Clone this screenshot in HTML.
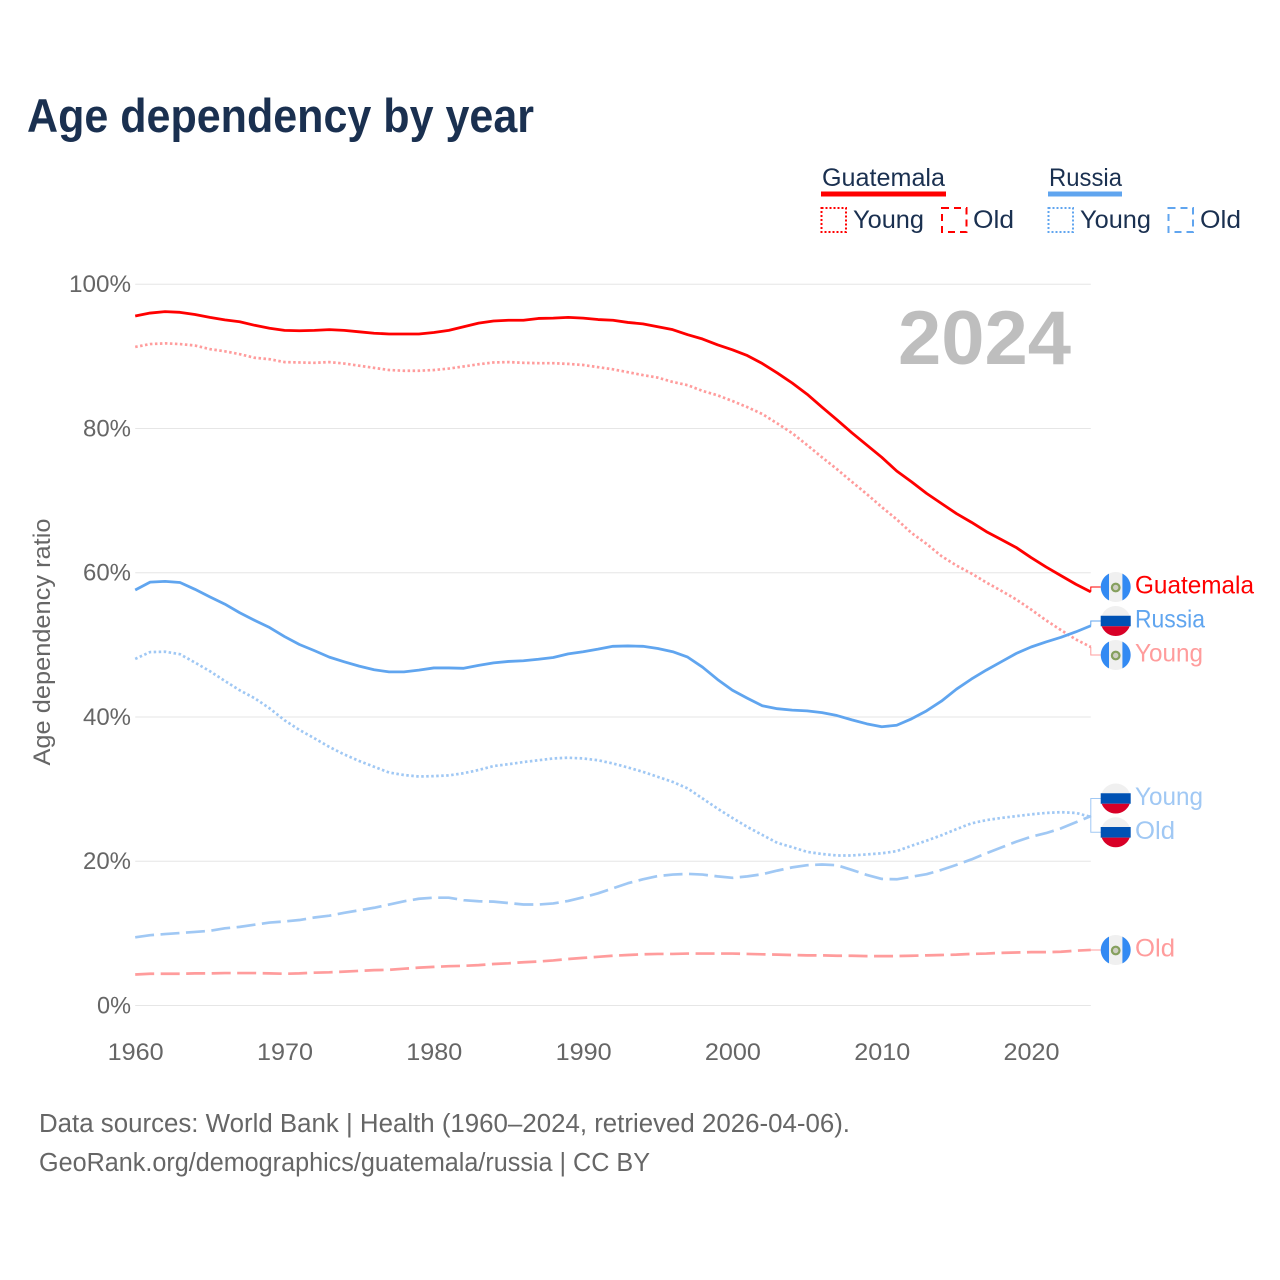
<!DOCTYPE html>
<html lang="en">
<head>
<meta charset="utf-8">
<title>Age dependency by year</title>
<style>
html,body{margin:0;padding:0;background:#fff;}
svg{display:block;font-family:"Liberation Sans",sans-serif;}
</style>
</head>
<body>
<svg id="chart" xmlns="http://www.w3.org/2000/svg" width="1280" height="1280" viewBox="0 0 1280 1280">
  <rect x="0" y="0" width="1280" height="1280" fill="#ffffff"/>
  <text x="27" y="132" font-size="47" font-weight="bold" fill="#1a3050" textLength="507" lengthAdjust="spacingAndGlyphs">Age dependency by year</text>

  <g>
    <text x="822" y="186" font-size="25" fill="#1a3050" textLength="123" lengthAdjust="spacingAndGlyphs">Guatemala</text>
    <rect x="821" y="191.5" width="125" height="5" fill="#ff0000"/>
    <rect x="821.5" y="208" width="24.5" height="24" fill="none" stroke="#ff0000" stroke-width="2" stroke-dasharray="2 2"/>
    <text x="853" y="228" font-size="25" fill="#1a3050" textLength="71" lengthAdjust="spacingAndGlyphs">Young</text>
    <rect x="942" y="208" width="24.5" height="24" fill="none" stroke="#ff0000" stroke-width="2" stroke-dasharray="7 5"/>
    <text x="973" y="228" font-size="25" fill="#1a3050" textLength="41" lengthAdjust="spacingAndGlyphs">Old</text>

    <text x="1049" y="186" font-size="25" fill="#1a3050" textLength="73" lengthAdjust="spacingAndGlyphs">Russia</text>
    <rect x="1048" y="191.5" width="74" height="5" fill="#60a5ef"/>
    <rect x="1048.5" y="208" width="24.5" height="24" fill="none" stroke="#60a5ef" stroke-width="2" stroke-dasharray="2 2"/>
    <text x="1080" y="228" font-size="25" fill="#1a3050" textLength="71" lengthAdjust="spacingAndGlyphs">Young</text>
    <rect x="1168.5" y="208" width="24.5" height="24" fill="none" stroke="#60a5ef" stroke-width="2" stroke-dasharray="7 5"/>
    <text x="1200" y="228" font-size="25" fill="#1a3050" textLength="41" lengthAdjust="spacingAndGlyphs">Old</text>
  </g>

  <g id="grid"></g>
  <g id="yticks"></g>
  <g id="xticks"></g>
  <text transform="translate(50,642) rotate(-90)" text-anchor="middle" font-size="24" fill="#666666" textLength="247" lengthAdjust="spacingAndGlyphs">Age dependency ratio</text>
  <text x="898" y="364" font-size="76" font-weight="bold" fill="#bebebe" textLength="173" lengthAdjust="spacingAndGlyphs">2024</text>

  <g id="series"></g>
  <g id="leaders"></g>
  <g id="endlabels"></g>

  <text x="39" y="1132" font-size="25.5" fill="#666666" textLength="811" lengthAdjust="spacingAndGlyphs">Data sources: World Bank | Health (1960–2024, retrieved 2026-04-06).</text>
  <text x="39" y="1171" font-size="25.5" fill="#666666" textLength="611" lengthAdjust="spacingAndGlyphs">GeoRank.org/demographics/guatemala/russia | CC BY</text>
</svg>
<script>
var yearStart = 1960;
var yearEnd = 2024;
var xTickLabels = [1960, 1970, 1980, 1990, 2000, 2010, 2020];
var yTickLabels = [0, 20, 40, 60, 80, 100];

var guatemalaTotal = [95.6,96.0,96.2,96.1,95.8,95.4,95.05,94.8,94.3,93.9,93.6,93.55,93.6,93.7,93.6,93.4,93.2,93.1,93.1,93.1,93.3,93.6,94.1,94.6,94.9,95.0,95.0,95.25,95.3,95.4,95.3,95.1,95.0,94.7,94.5,94.1,93.7,93.0,92.4,91.6,90.9,90.1,89.0,87.7,86.3,84.75,82.95,81.2,79.4,77.7,76.0,74.1,72.6,71.0,69.6,68.2,67.0,65.7,64.6,63.5,62.1,60.8,59.6,58.4,57.35];
var guatemalaYoung = [91.3,91.7,91.8,91.7,91.5,91.0,90.7,90.3,89.8,89.6,89.2,89.15,89.1,89.2,89.0,88.7,88.4,88.1,88.0,88.0,88.1,88.3,88.6,88.9,89.15,89.2,89.1,89.05,89.05,88.95,88.8,88.5,88.2,87.8,87.4,87.05,86.45,86.0,85.2,84.6,83.8,82.95,82.0,80.7,79.35,77.7,76.0,74.35,72.6,70.9,69.1,67.4,65.5,64.0,62.3,61.0,59.9,58.65,57.5,56.3,54.9,53.4,52.05,50.75,49.7];
var guatemalaOld = [4.3,4.4,4.4,4.4,4.45,4.45,4.5,4.5,4.5,4.45,4.4,4.45,4.55,4.6,4.7,4.8,4.9,4.95,5.1,5.25,5.35,5.45,5.5,5.6,5.75,5.85,6.0,6.1,6.25,6.45,6.6,6.75,6.9,7.0,7.1,7.15,7.15,7.2,7.2,7.2,7.2,7.15,7.1,7.05,7.0,6.95,6.95,6.9,6.9,6.85,6.85,6.85,6.9,6.95,7.0,7.05,7.15,7.2,7.3,7.35,7.4,7.4,7.45,7.6,7.7];
var russiaTotal = [57.6,58.7,58.8,58.65,57.7,56.65,55.65,54.45,53.4,52.4,51.15,50.05,49.2,48.3,47.65,47.05,46.55,46.25,46.25,46.5,46.8,46.8,46.75,47.15,47.5,47.7,47.8,48.0,48.25,48.75,49.05,49.4,49.8,49.85,49.8,49.5,49.05,48.3,46.9,45.2,43.7,42.6,41.55,41.15,40.95,40.85,40.6,40.2,39.6,39.05,38.65,38.85,39.75,40.85,42.2,43.85,45.25,46.5,47.65,48.8,49.7,50.4,51.05,51.8,52.65];
var russiaYoung = [48.05,49.0,49.05,48.7,47.55,46.35,45.0,43.7,42.6,41.2,39.55,38.2,37.05,35.85,34.8,33.9,33.1,32.3,31.95,31.75,31.8,31.9,32.2,32.65,33.2,33.45,33.75,34.0,34.25,34.35,34.25,34.0,33.55,33.0,32.4,31.7,31.0,30.1,28.7,27.3,26.0,24.75,23.65,22.55,21.95,21.3,21.0,20.8,20.8,20.95,21.1,21.4,22.15,22.85,23.6,24.45,25.25,25.7,26.0,26.25,26.5,26.7,26.8,26.7,26.15];
var russiaOld = [9.45,9.75,9.9,10.05,10.2,10.35,10.7,10.9,11.2,11.5,11.65,11.85,12.2,12.45,12.85,13.2,13.55,14.0,14.45,14.8,14.95,14.95,14.6,14.45,14.4,14.2,14.0,14.0,14.15,14.5,15.0,15.55,16.25,16.95,17.5,17.95,18.15,18.25,18.15,17.9,17.7,17.9,18.2,18.7,19.15,19.45,19.55,19.45,18.8,18.1,17.55,17.5,17.85,18.2,18.8,19.5,20.25,21.1,21.9,22.7,23.4,23.9,24.55,25.4,26.25];

var NS = 'http://www.w3.org/2000/svg';
var plotLeft = 135.2, plotRight = 1090.8, plotTop = 284.2, plotBottom = 1005.5;
function xScale(year) { return plotLeft + (year - yearStart) * (plotRight - plotLeft) / (yearEnd - yearStart); }
function yScale(pct) { return plotBottom - pct * (plotBottom - plotTop) / 100; }
function make(tag, attrs, parent) {
  var el = document.createElementNS(NS, tag);
  for (var k in attrs) { el.setAttribute(k, attrs[k]); }
  parent.appendChild(el);
  return el;
}

var gridGroup = document.getElementById('grid');
var yTickGroup = document.getElementById('yticks');
yTickLabels.forEach(function (v) {
  var y = yScale(v);
  var line = make('line', {x1: plotLeft, x2: plotRight, y1: y, y2: y, stroke: '#e6e6e6', 'stroke-width': 1}, gridGroup);
  
  
  var label = String(v) + '%';
  var t = make('text', {x: 131, y: y + 8, 'text-anchor': 'end', 'font-size': 24, fill: '#666666', textLength: (label.length - 1) * 14 + 20, lengthAdjust: 'spacingAndGlyphs'}, yTickGroup);
  t.textContent = label;
  
  
});

var xTickGroup = document.getElementById('xticks');
xTickLabels.forEach(function (yr) {
  var t = make('text', {x: xScale(yr) + 0.5, y: 1060, 'text-anchor': 'middle', 'font-size': 24, fill: '#666666', textLength: 56, lengthAdjust: 'spacingAndGlyphs'}, xTickGroup);
  t.textContent = String(yr);
  
  
});

var seriesGroup = document.getElementById('series');
function drawSeries(values, color, width, dash, name) {
  var pts = values.map(function (v, i) { return xScale(yearStart + i).toFixed(2) + ',' + yScale(v).toFixed(2); }).join(' ');
  var attrs = {points: pts, fill: 'none', stroke: color, 'stroke-width': width, 'stroke-linejoin': 'round'};
  if (dash) { attrs['stroke-dasharray'] = dash; }
  var line = make('polyline', attrs, seriesGroup);
  
  
}
var RED = '#ff0000', BLUE = '#60a5ef', LRED = '#ff9c9c', LBLUE = '#a0c8f4';
var DOT = '2.5 2.5', DASH = '19 6.5';
drawSeries(guatemalaOld, LRED, 2.7, DASH, 'line-guatemala-old');
drawSeries(russiaOld, LBLUE, 2.7, DASH, 'line-russia-old');
drawSeries(guatemalaYoung, LRED, 2.7, DOT, 'line-guatemala-young');
drawSeries(russiaYoung, LBLUE, 2.7, DOT, 'line-russia-young');
drawSeries(russiaTotal, BLUE, 2.8, null, 'line-russia-total');
drawSeries(guatemalaTotal, RED, 2.8, null, 'line-guatemala-total');

var leaderGroup = document.getElementById('leaders');
var labelGroup = document.getElementById('endlabels');
function russiaFlag(cx, cy, g) {
  make('circle', {cx: cx, cy: cy, r: 15, fill: '#f0f0f0'}, g);
  make('path', {d: 'M' + (cx - 15) + ' ' + (cy - 5.3) + 'H' + (cx + 15) + 'V' + (cy + 5.3) + 'H' + (cx - 15) + 'Z', fill: '#0052b4'}, g);
  make('path', {d: 'M' + (cx - 14.03) + ' ' + (cy + 5.3) + 'H' + (cx + 14.03) + 'A15 15 0 0 1 ' + (cx - 14.03) + ' ' + (cy + 5.3) + 'Z', fill: '#d80027'}, g);
}
function guatemalaFlag(cx, cy, g) {
  make('circle', {cx: cx, cy: cy, r: 15, fill: '#f0f0f0'}, g);
  make('path', {d: 'M' + (cx - 6.7) + ' ' + (cy - 13.4) + 'A15 15 0 0 0 ' + (cx - 6.7) + ' ' + (cy + 13.4) + 'Z', fill: '#338af3'}, g);
  make('path', {d: 'M' + (cx + 6.7) + ' ' + (cy - 13.4) + 'A15 15 0 0 1 ' + (cx + 6.7) + ' ' + (cy + 13.4) + 'Z', fill: '#338af3'}, g);
  make('circle', {cx: cx, cy: cy + 0.5, r: 3.8, fill: '#cfcfc4', stroke: '#86a05e', 'stroke-width': 2.2}, g);
}
function endLabel(values, labelY, text, width, color, flag, name) {
  var xEnd = xScale(yearEnd);
  var yEnd = yScale(values[values.length - 1]);
  var lead = make('polyline', {points: xEnd + ',' + yEnd + ' ' + xEnd + ',' + labelY + ' 1101,' + labelY, fill: 'none', stroke: color, 'stroke-width': 1}, leaderGroup);
  
  
  var g = make('g', {}, labelGroup);
  
  
  flag(1115.7, labelY, g);
  var t = make('text', {x: 1135, y: labelY + 6.5, 'font-size': 25, fill: color, textLength: width, lengthAdjust: 'spacingAndGlyphs'}, labelGroup);
  t.textContent = text;
  
  
}
endLabel(guatemalaTotal, 587, 'Guatemala', 119, RED, guatemalaFlag, 'guatemala-total');
endLabel(russiaTotal, 621, 'Russia', 70, BLUE, russiaFlag, 'russia-total');
endLabel(guatemalaYoung, 655, 'Young', 68, LRED, guatemalaFlag, 'guatemala-young');
endLabel(russiaYoung, 798.5, 'Young', 68, LBLUE, russiaFlag, 'russia-young');
endLabel(russiaOld, 832.3, 'Old', 40, LBLUE, russiaFlag, 'russia-old');
endLabel(guatemalaOld, 950, 'Old', 40, LRED, guatemalaFlag, 'guatemala-old');
</script>
</body>
</html>
